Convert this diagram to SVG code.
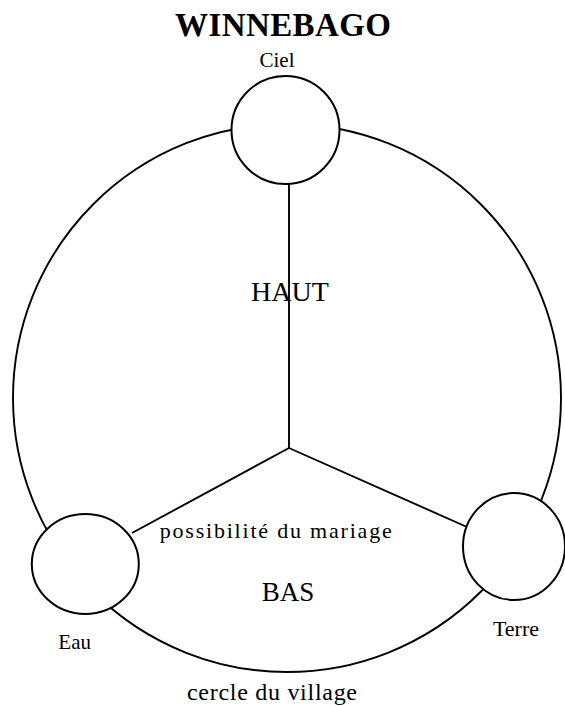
<svg xmlns="http://www.w3.org/2000/svg" width="565" height="706" viewBox="0 0 565 706">
<style>
.ln{fill:none;stroke:#000;stroke-width:1.9}
.nd{fill:#fff;stroke:#000;stroke-width:2}
text{font-family:"Liberation Serif","Times New Roman",serif;fill:#000}
</style>
<rect width="565" height="706" fill="#fff"/>
<g id="connectors">
<circle class="ln" cx="287" cy="398" r="274"/>
<line class="ln" x1="289" y1="184" x2="289" y2="448"/>
<line class="ln" x1="289" y1="448" x2="132" y2="533"/>
<line class="ln" x1="289" y1="448" x2="467" y2="527"/>
</g>
<g id="title"><text x="283" y="36" font-size="33" font-weight="bold" text-anchor="middle" textLength="216" lengthAdjust="spacing">WINNEBAGO</text></g>
<g id="ciel">
<circle class="nd" cx="285.5" cy="130" r="54"/>
<text x="277" y="67" font-size="21" text-anchor="middle">Ciel</text>
</g>
<g id="eau">
<ellipse class="nd" cx="85.3" cy="564" rx="53.5" ry="50"/>
<text x="74.7" y="649" font-size="21" text-anchor="middle">Eau</text>
</g>
<g id="terre">
<ellipse class="nd" cx="514" cy="546.5" rx="51" ry="53.5"/>
<text x="516" y="636" font-size="22" text-anchor="middle">Terre</text>
</g>
<g id="labels">
<text x="290" y="301" font-size="28" text-anchor="middle">HAUT</text>
<text x="288" y="601" font-size="27" text-anchor="middle">BAS</text>
<text x="159.7" y="538" font-size="22" textLength="232" lengthAdjust="spacing">possibilité du mariage</text>
<text x="187" y="700" font-size="24" textLength="170" lengthAdjust="spacing">cercle du village</text>
</g>
</svg>
